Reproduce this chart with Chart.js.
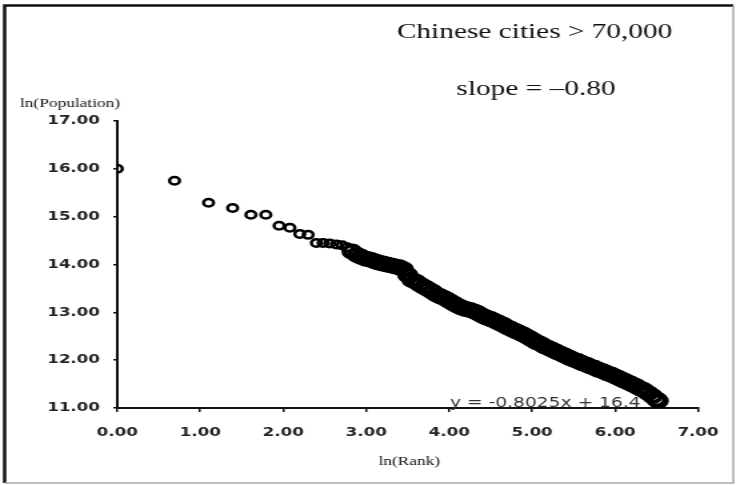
<!DOCTYPE html>
<html>
<head>
<meta charset="utf-8">
<script src="https://cdn.jsdelivr.net/npm/chart.js@4.4.1/dist/chart.umd.min.js"></script>
<style>
  html, body { margin: 0; padding: 0; background: #fff; }
  #rankChart { display: block; }
</style>
</head>
<body>
<!-- the source picture is stretched sideways, so the canvas is drawn narrow and widened by CSS -->
<canvas id="rankChart" width="552" height="485" style="width:736px;height:485px"></canvas>
<script>
// ln(Rank) of each city point
const lnRank = [
  0.00, 0.69, 1.10, 1.39, 1.61, 1.79, 1.95, 2.08, 2.20, 2.30,
  2.40, 2.48, 2.56, 2.64, 2.71, 2.77, 2.83, 2.89, 2.94,
  3.00, 3.05, 3.10, 3.15, 3.20, 3.25, 3.30, 3.35, 3.40, 3.45,
  3.50, 3.55, 3.60, 3.65, 3.70, 3.75, 3.80, 3.85, 3.90, 3.95,
  4.00, 4.05, 4.10, 4.15, 4.20, 4.25, 4.30, 4.35, 4.40, 4.45,
  4.50, 4.55, 4.60, 4.65, 4.70, 4.75, 4.80, 4.85, 4.90, 4.95,
  5.00, 5.05, 5.10, 5.15, 5.20, 5.25, 5.30, 5.35, 5.40, 5.45,
  5.50, 5.55, 5.60, 5.65, 5.70, 5.75, 5.80, 5.85, 5.90, 5.95,
  6.00, 6.05, 6.10, 6.15, 6.20, 6.25, 6.30, 6.35, 6.40, 6.45,
  6.50, 6.52
];

// ln(Population) for the same points
const lnPop = [
  16.00, 15.75, 15.29, 15.18, 15.04, 15.04, 14.81, 14.77, 14.64, 14.62,
  14.45, 14.45, 14.44, 14.42, 14.40, 14.36, 14.27, 14.20, 14.16,
  14.12, 14.10, 14.07, 14.04, 14.02, 14.00, 13.98, 13.96, 13.94, 13.90,
  13.78, 13.68, 13.64, 13.58, 13.53, 13.48, 13.43, 13.37, 13.33, 13.29,
  13.24, 13.19, 13.14, 13.10, 13.07, 13.05, 13.02, 12.98, 12.93, 12.89,
  12.86, 12.82, 12.78, 12.74, 12.69, 12.65, 12.61, 12.57, 12.53, 12.48,
  12.43, 12.38, 12.34, 12.29, 12.25, 12.21, 12.17, 12.13, 12.09, 12.05,
  12.01, 11.98, 11.94, 11.91, 11.87, 11.84, 11.80, 11.77, 11.73, 11.70,
  11.66, 11.62, 11.58, 11.54, 11.50, 11.46, 11.41, 11.37, 11.31, 11.25,
  11.18, 11.15
];

// axis ranges and texts
const xRange = [0, 7];
const yRange = [11, 17];
const titleLines = ['Chinese cities > 70,000', 'slope = \u20130.80'];
const xTitle = 'ln(Rank)';
const yTitle = 'ln(Population)';
const trendText = 'y = -0.8025x + 16.4';

const points = lnRank.map((x, i) => ({ x: x, y: lnPop[i] }));

// from this point on the cities pile up into one thick band
const denseFrom = 16;

// texts and frame drawn straight on the canvas
const decorPlugin = {
    id: 'decor',
    beforeDatasetsDraw(chart) {
        const ctx = chart.ctx;
        ctx.save();
        ctx.fillStyle = '#111';
        ctx.textAlign = 'center';
        ctx.textBaseline = 'alphabetic';
        ctx.font = '22px "Liberation Serif", serif';
        ctx.fillText(titleLines[0], 401, 38);
        ctx.fillText(titleLines[1], 402, 95);

        ctx.font = '13px "Liberation Serif", serif';
        ctx.textAlign = 'left';
        ctx.fillText(yTitle, 15, 107);
        ctx.textAlign = 'center';
        ctx.fillText(xTitle, 307, 465);

        ctx.fillStyle = '#333';
        ctx.font = '14px "DejaVu Sans", sans-serif';
        ctx.fillText(trendText, 409, 407);

        // outer frame: dark on left/top, light grey on right/bottom
        ctx.lineWidth = 2.5;
        ctx.strokeStyle = '#111';
        ctx.beginPath();
        ctx.moveTo(3.5, 483);
        ctx.lineTo(3.5, 5.5);
        ctx.lineTo(550, 5.5);
        ctx.stroke();
        ctx.lineWidth = 1.5;
        ctx.strokeStyle = '#aaa';
        ctx.beginPath();
        ctx.moveTo(550, 5.5);
        ctx.lineTo(550, 483);
        ctx.lineTo(3.5, 483);
        ctx.stroke();
        ctx.restore();
    }
};

const tickFont = { family: 'DejaVu Sans', size: 12.5, weight: 'bold' };

document.addEventListener('DOMContentLoaded', function () {
    const ctx = document.getElementById('rankChart').getContext('2d');
    new Chart(ctx, {
        type: 'scatter',
        data: {
            datasets: [{
                label: 'Chinese cities',
                data: points,
                pointStyle: 'circle',
                pointRadius: c => c.dataIndex < denseFrom ? 3.75 : 6,
                pointBorderWidth: c => c.dataIndex < denseFrom ? 2.5 : 4,
                pointBorderColor: '#000',
                pointBackgroundColor: 'rgba(0,0,0,0)'
            }]
        },
        options: {
            responsive: false,
            animation: false,
            devicePixelRatio: 1,
            layout: { padding: { left: 0, right: 25, top: 121, bottom: 0 } },
            plugins: {
                legend: { display: false },
                tooltip: { enabled: false }
            },
            scales: {
                x: {
                    type: 'linear',
                    min: xRange[0],
                    max: xRange[1],
                    ticks: {
                        stepSize: 1,
                        color: '#222',
                        font: tickFont,
                        padding: 13,
                        maxRotation: 0,
                        callback: v => v.toFixed(2)
                    },
                    grid: { display: true, drawOnChartArea: false, drawTicks: true, tickLength: 4, color: '#111', lineWidth: 1.5 },
                    border: { display: true, color: '#111', width: 2 },
                    afterFit: s => { s.height = 77; }
                },
                y: {
                    type: 'linear',
                    min: yRange[0],
                    max: yRange[1],
                    ticks: {
                        stepSize: 1,
                        color: '#222',
                        font: tickFont,
                        padding: 10,
                        callback: v => v.toFixed(2)
                    },
                    grid: { display: true, drawOnChartArea: false, drawTicks: true, tickLength: 3, color: '#111', lineWidth: 1.5 },
                    border: { display: true, color: '#111', width: 2 },
                    afterFit: s => { s.width = 88; }
                }
            }
        },
        plugins: [decorPlugin]
    });
});
</script>
</body>
</html>
